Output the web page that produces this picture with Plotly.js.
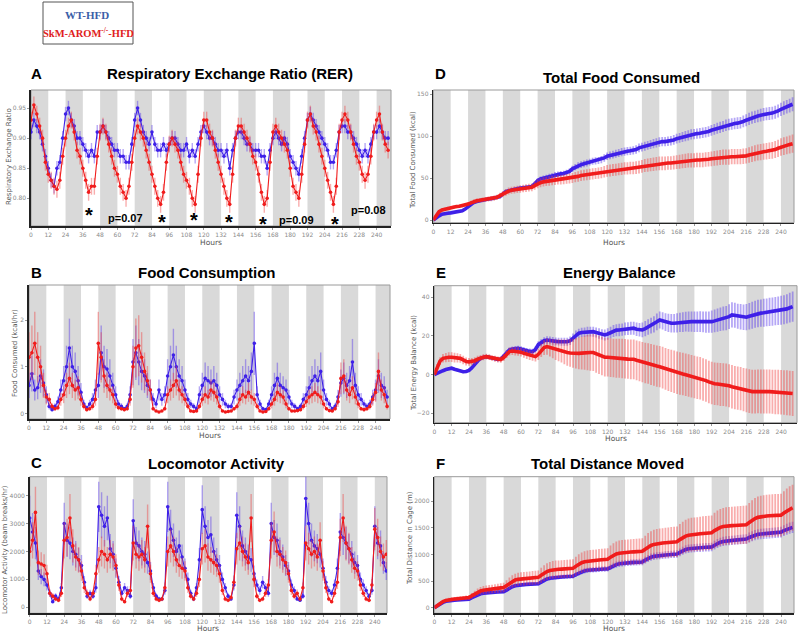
<!DOCTYPE html>
<html><head><meta charset="utf-8">
<script src="https://cdn.plot.ly/plotly-3.0.1.min.js"></script>
<style>html,body{margin:0;padding:0;background:#fff}#chart{width:800px;height:633px}</style>
</head><body><div id="chart"></div>
<script>
// ---------- DATA ----------
const hours = [0,2,4,6,8,10,12,14,16,18,20,22,24,26,28,30,32,34,36,38,40,42,44,46,48,50,52,54,56,58,60,62,64,66,68,70,72,74,76,78,80,82,84,86,88,90,92,94,96,98,100,102,104,106,108,110,112,114,116,118,120,122,124,126,128,130,132,134,136,138,140,142,144,146,148,150,152,154,156,158,160,162,164,166,168,170,172,174,176,178,180,182,184,186,188,190,192,194,196,198,200,202,204,206,208,210,212,214,216,218,220,222,224,226,228,230,232,234,236,238,240,242,244,246,248];

const rerWT = [0.91,0.93,0.92,0.91,0.89,0.87,0.85,0.83,0.82,0.85,0.86,0.90,
0.94,0.95,0.93,0.92,0.90,0.90,0.89,0.88,0.87,0.88,0.87,0.91,
0.91,0.92,0.91,0.90,0.89,0.88,0.88,0.87,0.87,0.86,0.86,0.89,
0.93,0.95,0.93,0.91,0.90,0.89,0.91,0.89,0.88,0.88,0.89,0.88,
0.89,0.90,0.90,0.89,0.88,0.88,0.89,0.87,0.88,0.87,0.89,0.91,
0.92,0.91,0.90,0.90,0.89,0.88,0.88,0.87,0.88,0.85,0.88,0.90,
0.91,0.91,0.90,0.89,0.89,0.88,0.88,0.88,0.87,0.87,0.85,0.88,
0.90,0.91,0.90,0.89,0.90,0.89,0.87,0.86,0.85,0.84,0.87,0.90,
0.93,0.94,0.93,0.92,0.91,0.90,0.89,0.88,0.86,0.86,0.88,0.91,
0.92,0.92,0.91,0.91,0.90,0.89,0.88,0.87,0.88,0.87,0.89,0.91,
0.91,0.92,0.91,0.90,0.90];
const rerKO = [0.93,0.955,0.94,0.92,0.90,0.86,0.84,0.83,0.82,0.815,0.83,0.87,
0.90,0.92,0.93,0.91,0.88,0.87,0.85,0.83,0.81,0.82,0.82,0.87,
0.91,0.92,0.91,0.89,0.87,0.85,0.84,0.82,0.81,0.80,0.82,0.86,
0.90,0.92,0.91,0.90,0.88,0.86,0.84,0.82,0.80,0.79,0.81,0.86,
0.89,0.90,0.89,0.88,0.86,0.84,0.83,0.82,0.80,0.79,0.84,0.90,
0.93,0.93,0.91,0.90,0.88,0.86,0.84,0.82,0.80,0.79,0.84,0.90,
0.92,0.92,0.91,0.90,0.89,0.87,0.86,0.84,0.81,0.79,0.80,0.86,
0.91,0.92,0.91,0.90,0.89,0.88,0.85,0.82,0.81,0.80,0.84,0.89,
0.93,0.94,0.92,0.91,0.89,0.87,0.85,0.83,0.81,0.79,0.82,0.91,
0.93,0.94,0.93,0.91,0.89,0.87,0.86,0.84,0.83,0.84,0.87,0.91,
0.93,0.94,0.91,0.89,0.88];

const foodWT = [0.6,0.85,0.5,0.55,0.8,0.65,0.4,0.15,0.08,0.15,0.25,0.5,
0.7,1.0,1.4,1.0,0.9,0.7,0.45,0.2,0.12,0.2,0.3,0.5,
0.6,1.3,1.0,0.95,0.8,0.6,0.4,0.2,0.15,0.1,0.15,0.4,
1.1,1.3,1.1,0.9,0.8,0.6,0.5,0.3,0.2,0.5,0.3,0.4,
0.8,1.0,1.25,1.0,0.8,0.7,0.5,0.3,0.2,0.15,0.1,0.4,
0.6,0.75,0.7,0.65,0.7,0.6,0.4,0.3,0.2,0.15,0.15,0.35,
0.5,0.6,0.7,0.8,0.7,0.9,1.5,0.4,0.2,0.1,0.08,0.2,
0.4,0.6,0.75,0.6,0.55,0.5,0.35,0.2,0.15,0.1,0.15,0.3,
0.4,0.55,0.7,0.8,0.7,0.9,0.5,0.3,0.2,0.1,0.15,0.35,
0.65,0.75,0.6,0.7,1.1,0.6,0.4,0.3,0.2,0.15,0.2,0.35,
0.5,0.8,0.6,0.55,0.35];
const foodKO = [1.2,1.3,1.5,1.2,1.0,0.6,0.35,0.3,0.15,0.1,0.12,0.3,
0.4,0.6,0.75,0.6,0.5,0.55,0.3,0.15,0.08,0.1,0.15,0.3,
1.5,1.2,0.8,0.6,0.5,0.4,0.2,0.12,0.1,0.08,0.1,0.3,
1.0,1.4,1.45,1.2,0.9,0.7,0.5,0.1,0.05,0.03,0.05,0.1,
0.4,0.5,0.6,0.7,0.5,0.4,0.3,0.15,0.05,0.04,0.05,0.15,
0.3,0.4,0.35,0.5,0.45,0.35,0.15,0.05,0.03,0.04,0.05,0.1,
0.15,0.3,0.4,0.35,0.45,0.35,0.3,0.15,0.05,0.03,0.04,0.1,
0.2,0.3,0.45,0.4,0.35,0.2,0.1,0.05,0.05,0.06,0.08,0.15,
0.25,0.35,0.4,0.45,0.4,0.35,0.2,0.1,0.06,0.05,0.1,0.25,
0.75,0.8,0.5,0.4,0.55,0.35,0.2,0.1,0.08,0.1,0.15,0.3,
0.45,0.9,0.5,0.4,0.15];

const locoWT = [3200,2700,2300,1300,1100,1000,800,500,200,400,300,700,
3000,2400,2300,2000,1900,1700,1500,900,400,500,400,700,
3600,3300,2900,3200,2100,1900,1400,900,500,700,600,400,
3100,2300,2200,2000,1900,1600,1300,700,400,300,300,600,
3600,2800,2400,2000,2200,1800,1400,1000,500,300,700,1700,
3500,2900,2500,2600,2000,1700,1500,1000,700,400,300,800,
3300,2900,2200,2000,1800,1700,1200,800,600,900,700,500,
3000,2500,2400,2000,1800,1500,1300,800,600,300,250,400,
3900,3000,2400,2200,2100,1900,1400,900,600,500,800,1400,
2700,2500,2300,2100,1900,1600,1500,1000,800,600,400,600,
2900,2300,2200,1600,1300];
const locoKO = [2000,2400,3400,1600,1550,1500,1200,500,400,300,250,500,
2400,2500,3200,2200,1800,1700,1300,700,500,300,500,1200,
1700,2000,1900,1700,1900,1800,1500,800,300,200,500,600,
2300,1900,1800,1900,1700,2900,1200,500,300,250,300,700,
2000,2200,2000,1700,1500,1400,1300,700,400,300,500,1000,
2100,2200,1800,1700,1600,1500,1200,600,300,250,350,900,
2100,2300,2000,1800,1600,3200,1000,400,250,300,500,800,
2400,2700,2000,1900,1700,1600,1200,600,400,500,300,700,
2300,2100,1900,2000,1800,2400,1300,700,300,200,500,900,
2500,3200,2300,2100,1700,1400,1300,800,500,300,250,800,
2800,2500,2000,1800,1900];

const totFoodWT = [0,3,5,7,8,8,8.5,9,9.5,10,11,13,
16,19,21,22,23,24,24.5,25,25.5,26,26.5,28,
31,34,35,36,37,37.5,38,38.5,39,39.5,40,43,
47,49,50,51,52,53,54,54.5,55,55.5,56.5,58,
61,63,65,66,67,68,69,70,70.5,71,72,74,
76,77,78,79,80,81,81.5,82,82.5,83,84,86,
87,88,89,90,91,92,93,93.5,93.5,94,94.5,95.5,
97,98,99,100,101,102,102.5,103,103.5,104,104.5,105.5,
107,108,109.5,110.5,111.5,113,114,114.5,115,115.5,116,117.5,
119,120.5,122,123,124,125,126,126.5,127,127.5,128.5,130,
132,133.5,135,136.5,138];
const totFoodKO = [0,6,10,12,13,14,15,15.5,16,16.5,17,18,
19,20.5,22,23,23.5,24,24.5,25,25.5,26,27,29,
31,33,34.5,35.5,36,36.5,37,37.5,38,38.5,39,41,
43,44.5,45.5,46,46.5,47,47.5,48,48,48.5,49,49.5,
50,51,52,53,53.5,54,54.5,55,55.5,56,56.5,57.5,
58.5,59,59.5,60,60.5,61,61.5,61.5,62,62,62.5,63,
64,65,65.5,66,66.5,67,67.5,67.5,67.5,68,68,68.5,
69,69.5,70,70.5,71,71,71,71.5,71.5,71.5,72,72.5,
73,73.5,74,74.5,75,75,75,75.5,75.5,75.5,75.5,76,
76.5,77.5,78.5,79.5,80.5,81,81.5,82,82.5,83,84,85.5,
87,88,89,90,91];

const balWT = [0,0.8,1.5,2,2.6,3.1,3.3,2.8,2.4,2,1.5,1.6,
2.2,3.5,5.5,7,8.4,9,9.3,9,8.5,8.2,7.8,8,
9.5,11.5,12.8,13.2,13.5,13.6,13.3,12.8,12.4,12,11.9,13,
15.5,16.5,17.5,17.9,17.8,17.5,17.2,17,17,17,17,17.5,
19,20.5,21.4,21.8,22,22.2,22.2,22.2,21.8,21.3,20.8,20.5,
21,21.8,22.5,23,23.1,23.3,23.6,23.8,24,24,23.5,23.2,
23.1,23.8,24.6,25.3,26,27.3,28.3,27.8,27.2,26.8,26.6,26.6,
26.8,27,27.2,27.4,27.4,27.4,27.4,27.4,27.4,27.3,27.2,27.2,
27.4,27.8,28.2,28.6,29,29.2,30,30.9,30.7,30.2,29.9,29.7,
29.7,30.2,30.7,31.2,31.6,31.8,32,32.2,32.4,32.6,32.8,33,
33.3,33.6,34,34.6,35.2];
const balKO = [0,4,7,8.4,8.8,9,9,8.8,8.6,8.4,7.6,6.8,
6.6,6.7,7.2,8,8.6,9,9.3,9,8.5,8.2,7.8,7.8,
8.8,10.5,11.9,12.2,12.1,11.9,11.6,11,10.5,10,9.6,9.3,
10.5,12.5,14,14.5,14,13.4,12.9,12.6,12.2,11.8,11.4,11.2,
11,11,11,11.1,11.3,11.4,11.4,11.4,10.8,10.2,9.6,9,
9,8.8,8.6,8.5,8.4,8.3,8.2,8,7.9,7.9,7.4,6.9,
6.4,6,5.7,5.2,4.8,4.4,4.1,3.6,3,2.4,1.9,1.5,
1,0.6,0.3,-0.1,-0.5,-0.9,-1.3,-1.6,-1.9,-2.5,-3.1,-3.8,
-4.4,-4.7,-4.9,-5.1,-5.2,-5.4,-5.8,-6.3,-6.7,-7,-7.3,-7.8,
-8.2,-8.6,-8.8,-8.8,-8.7,-8.8,-8.8,-8.8,-8.8,-8.9,-9,-9,
-9.1,-9.3,-9.4,-9.6,-9.8];
const balWTerr = [0,0.5,0.6,0.7,0.7,0.7,0.8,0.8,0.8,0.8,0.8,0.8,
0.9,0.9,1,1,1,1,1,1,1,1,1,1,
1.1,1.2,1.2,1.3,1.3,1.3,1.4,1.4,1.4,1.5,1.5,1.5,
1.7,1.8,1.8,1.9,1.9,2,2,2,2.1,2.1,2.1,2.2,
2.2,2.3,2.3,2.4,2.4,2.5,2.5,2.6,2.6,2.7,2.7,2.8,
3,3,3.1,3.1,3.2,3.2,3.3,3.3,3.4,3.4,3.5,3.5,
3.8,3.9,4,4.1,4.2,4.3,4.4,4.5,4.6,4.7,4.8,4.8,
5,5,5.1,5.1,5.2,5.2,5.3,5.3,5.4,5.4,5.5,5.5,
5.8,5.9,6,6.1,6.2,6.3,6.4,6.5,6.5,6.5,6.6,6.6,
6.8,6.9,7,7,7.1,7.1,7.2,7.2,7.3,7.3,7.3,7.4,
7.5,7.5,7.6,7.7,7.8];
const balKOerr = [0,1.5,2,2.2,2.4,2.5,2.5,2.5,2.4,2.3,2.2,2.1,
2,1.9,1.8,1.7,1.6,1.6,1.5,1.5,1.5,1.6,1.6,1.7,
1.8,1.9,2,2.1,2.2,2.2,2.3,2.3,2.4,2.4,2.5,2.5,
3,3.4,3.8,4.2,4.6,5,5.3,5.7,6,6.4,6.8,7.2,
7.5,7.9,8.2,8.5,8.8,9.1,9.4,9.6,9.8,9.9,10,10,
10,10,10,10.1,10.1,10.2,10.2,10.2,10.3,10.3,10.3,10.4,
10.4,10.5,10.5,10.6,10.6,10.7,10.7,10.8,10.8,10.9,10.9,11,
11,11,11,11,11,11,11,11,11,11,11,11,
11,11,11,11.1,11.1,11.1,11.1,11.2,11.2,11.2,11.2,11.2,
11.3,11.3,11.3,11.3,11.3,11.4,11.4,11.4,11.4,11.4,11.5,11.5,
11.5,11.5,11.6,11.6,11.6];

const distWT = [0,40,75,100,120,132,140,143,146,149,152,156,
160,190,220,245,262,272,280,284,288,291,294,297,
300,330,365,395,412,423,430,434,438,441,444,447,
450,480,515,540,555,564,570,574,578,582,585,588,
590,620,650,675,692,703,710,714,718,722,725,728,
730,760,790,810,825,834,840,844,848,852,855,858,
860,895,925,950,965,975,980,985,990,996,1002,1007,
1010,1040,1070,1095,1108,1115,1120,1124,1128,1132,1135,1138,
1140,1175,1205,1230,1245,1255,1260,1265,1270,1275,1280,1285,
1290,1320,1345,1365,1378,1385,1390,1394,1398,1405,1410,1415,
1420,1450,1475,1495,1510];
const distKO = [0,45,85,115,138,152,160,165,170,175,180,185,
190,225,260,295,315,330,340,346,352,360,366,373,
380,420,460,495,520,533,540,545,550,555,560,565,
570,610,650,680,700,712,720,723,726,730,734,737,
740,780,815,845,863,873,880,885,890,896,901,906,
910,950,985,1010,1025,1034,1040,1043,1046,1050,1054,1057,
1060,1100,1140,1170,1190,1203,1210,1215,1220,1226,1232,1237,
1240,1280,1315,1345,1362,1373,1380,1384,1390,1396,1402,1406,
1410,1450,1485,1510,1525,1535,1540,1543,1546,1550,1553,1556,
1560,1600,1640,1675,1698,1712,1720,1724,1728,1732,1736,1738,
1740,1780,1820,1855,1880];

const hourTicks = [0,12,24,36,48,60,72,84,96,108,120,132,144,156,168,180,192,204,216,228,240];
const panelTitles = ["Respiratory Exchange Ratio (RER)","Food Consumption","Locomotor Activity","Total Food Consumed","Energy Balance","Total Distance Moved"];
const panelLetters = ["A","B","C","D","E","F"];
const yTitles = ["Respiratory Exchange Ratio","Food Consumed (kcal/hr)","Locomotor Activity (beam breaks/hr)","Total Food Consumed (kcal)","Total Energy Balance (kcal)","Total Distance in Cage (m)"];
const starHours = [40.3, 90.9, 113.4, 137.7, 161.4, 210.8];
const pLabels = ["p=0.07","p=0.09","p=0.08"];
const pHours = [65.4, 184.3, 234.1];

// ---------- LAYOUT ----------
const W = 800, H = 633;
const BLUE = 'rgb(62,32,232)', RED = 'rgb(240,28,28)';
const BLUE_E = 'rgba(90,60,235,0.45)', RED_E = 'rgba(240,60,60,0.42)';
const boxes = [
  {l:31, r:391, t:90, b:226, xmax:250, yr:[0.754,0.98], ticks:[0.80,0.85,0.90,0.95], fmt:'.2f', hy:242, tx:230, ty:74, lx:29, ly:73, ytx:9, yty:157},
  {l:29, r:390, t:285, b:419, xmax:250, yr:[-0.12,2.75], ticks:[0,1,2], fmt:'', hy:435, tx:207, ty:272, lx:29, ly:272, ytx:15, yty:353},
  {l:29.7, r:387, t:476.7, b:613.3, xmax:248.5, yr:[-215,4680], ticks:[0,1000,2000,3000,4000], fmt:'', hy:628.5, tx:216, ty:463, lx:29, ly:462, ytx:5, yty:550},
  {l:433.3, r:794, t:90, b:222.7, xmax:249, yr:[-3.2,155], ticks:[0,50,100,150], fmt:'', hy:242, tx:621, ty:77, lx:433, ly:73, ytx:413, yty:160},
  {l:434.3, r:797, t:285.7, b:422.7, xmax:251, yr:[-24.9,46], ticks:[-20,0,20,40], fmt:'', hy:438, tx:619, ty:272, lx:434, ly:272, ytx:414, yty:363},
  {l:434.3, r:794, t:476.7, b:613.3, xmax:249, yr:[-105,2462], ticks:[0,500,1000,1500,2000], fmt:'', hy:628.5, tx:607, ty:463, lx:434, ly:463, ytx:410, yty:538}
];

const layout = {width:W, height:H, margin:{l:0,r:0,t:0,b:0}, paper_bgcolor:'#fff', plot_bgcolor:'#fff', showlegend:false, shapes:[], annotations:[]};
const tickFont = {family:'DejaVu Sans', size:6, color:'#8a8a8a'};
boxes.forEach((bx,i)=>{
  const n = i===0 ? '' : String(i+1);
  layout['xaxis'+n] = {domain:[bx.l/W, bx.r/W], range:[0,bx.xmax], anchor:'y'+n, tickvals:hourTicks, ticks:'outside', ticklen:2, tickcolor:'#999', tickfont:tickFont, showgrid:false, zeroline:false, showline:true, linecolor:'#222', linewidth:1.6, fixedrange:true};
  layout['yaxis'+n] = {domain:[1-bx.b/H, 1-bx.t/H], range:bx.yr, anchor:'x'+n, tickvals:bx.ticks, tickformat:bx.fmt, ticks:'outside', ticklen:2, tickcolor:'#999', tickfont:tickFont, showgrid:false, zeroline:false, showline:true, linecolor:'#222', linewidth:1.6, fixedrange:true};
  for (let s=0; s<bx.xmax; s+=24) {
    layout.shapes.push({type:'rect', xref:'x'+n, yref:'y'+n+' domain', x0:s, x1:Math.min(s+12,bx.xmax), y0:0, y1:1, fillcolor:'#d9d9d9', line:{width:0}, layer:'below'});
  }
  layout.shapes.push({type:'rect', xref:'x'+n+' domain', yref:'y'+n+' domain', x0:0, x1:1, y0:0, y1:1, line:{color:'#9a9a9a', width:1}, layer:'below'});
  layout.annotations.push({xref:'paper', yref:'paper', x:bx.tx/W, y:1-bx.ty/H, text:panelTitles[i], showarrow:false, xanchor:'center', yanchor:'middle', font:{family:'Liberation Sans', size:15, color:'#000', weight:'bold'}});
  layout.annotations.push({xref:'paper', yref:'paper', x:bx.lx/W, y:1-bx.ly/H, text:panelLetters[i], showarrow:false, xanchor:'left', yanchor:'middle', font:{family:'Liberation Sans', size:15, color:'#000', weight:'bold'}});
  layout.annotations.push({xref:'paper', yref:'paper', x:((bx.l+bx.r)/2)/W, y:1-bx.hy/H, text:'Hours', showarrow:false, xanchor:'center', yanchor:'middle', font:{family:'DejaVu Sans', size:7.5, color:'#555'}});
  layout.annotations.push({xref:'paper', yref:'paper', x:bx.ytx/W, y:1-bx.yty/H, text:yTitles[i], textangle:-90, showarrow:false, xanchor:'center', yanchor:'middle', font:{family:'DejaVu Sans', size:7, color:'#555'}});
});
starHours.forEach((h,k)=>{
  const yv = [0.773,0.761,0.764,0.761,0.758,0.758][k];
  layout.annotations.push({xref:'x', yref:'y', x:h, y:yv, text:'*', showarrow:false, xanchor:'center', yanchor:'middle', font:{family:'Liberation Sans', size:20, color:'#000', weight:'bold'}});
});
pLabels.forEach((t,k)=>{
  const yv = [0.767,0.764,0.7805][k];
  layout.annotations.push({xref:'x', yref:'y', x:pHours[k], y:yv, text:t, showarrow:false, xanchor:'center', yanchor:'middle', font:{family:'Liberation Sans', size:11, color:'#000', weight:'bold'}});
});
layout.shapes.push({type:'rect', xref:'paper', yref:'paper', x0:43/W, x1:133/W, y0:1-44/H, y1:1-2/H, line:{color:'#555', width:1}, fillcolor:'#fff'});
layout.annotations.push({xref:'paper', yref:'paper', x:87/W, y:1-15/H, text:'WT-HFD', showarrow:false, xanchor:'center', yanchor:'middle', font:{family:'Liberation Serif', size:11, color:'#3b5ea8', weight:'bold'}});
layout.annotations.push({xref:'paper', yref:'paper', x:88/W, y:1-32/H, text:'SkM-AROM<sup>-/-</sup>-HFD', showarrow:false, xanchor:'center', yanchor:'middle', font:{family:'Liberation Serif', size:10.5, color:'#e02020', weight:'bold'}});

// ---------- TRACES ----------
function pt(y, ax, color, ecol, err) {
  return {x:hours, y:y, xaxis:'x'+ax, yaxis:'y'+ax, type:'scatter', mode:'lines+markers', cliponaxis:true,
    line:{color:color, width:1.1}, marker:{color:color, size:3.6},
    error_y:Object.assign({visible:true, color:ecol, thickness:1.4, width:0}, err)};
}
function cum(y, ax, color, ecol, err) {
  return {x:hours, y:y, xaxis:'x'+ax, yaxis:'y'+ax, type:'scatter', mode:'lines',
    line:{color:color, width:3.6},
    error_y:Object.assign({visible:true, color:ecol, thickness:1.8, width:0}, err)};
}
const data = [
  pt(rerWT, '', BLUE, BLUE_E, {type:'constant', value:0.012}),
  pt(rerKO, '', RED, RED_E, {type:'constant', value:0.014}),
  pt(foodWT, '2', BLUE, BLUE_E, {type:'percent', value:45}),
  pt(foodKO, '2', RED, RED_E, {type:'percent', value:45}),
  pt(locoWT, '3', BLUE, BLUE_E, {type:'percent', value:25}),
  pt(locoKO, '3', RED, RED_E, {type:'percent', value:27}),
  cum(totFoodWT, '4', BLUE, BLUE_E, {type:'percent', value:6}),
  cum(totFoodKO, '4', RED, RED_E, {type:'percent', value:12}),
  cum(balWT, '5', BLUE, BLUE_E, {type:'data', array:balWTerr}),
  cum(balKO, '5', RED, RED_E, {type:'data', array:balKOerr}),
  cum(distWT, '6', BLUE, BLUE_E, {type:'percent', value:7}),
  cum(distKO, '6', RED, RED_E, {type:'percent', value:23})
];
Plotly.newPlot('chart', data, layout, {displayModeBar:false, staticPlot:true});
</script></body></html>
